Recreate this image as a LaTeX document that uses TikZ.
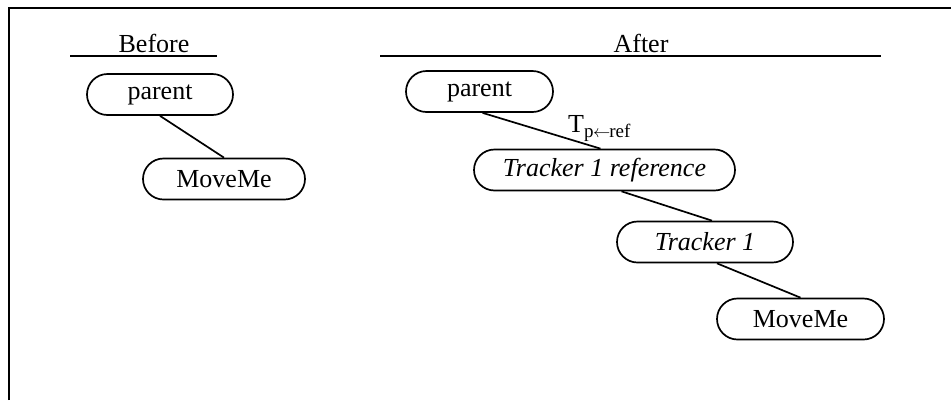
\documentclass[tikz,border=0pt]{standalone}
\usepackage{fontspec}
\setmainfont{Liberation Serif}
\usetikzlibrary{shapes.misc}
\begin{document}
\begin{tikzpicture}[x=1pt,y=-1pt,
  pill/.style={draw, line width=1.7pt, rounded rectangle, minimum height=41pt,
               inner sep=0pt, font=\fontsize{26}{30}\selectfont},
  link/.style={line width=1.7pt},
  heading/.style={font=\fontsize{26}{30}\selectfont, inner sep=0pt},
  rule/.style={line width=1.7pt}]
\useasboundingbox (0,0) rectangle (951,400);

% frame (top and left edges)
\draw[line width=2.6pt] (9,400) -- (9,8) -- (951,8);

% headings with rules
\node[heading] (before) at (154,43) {Before};
\coordinate (bl) at (70,56);
\coordinate (br) at (217,56);
\draw[rule] (bl) -- (br);

\node[heading] (after) at (641,43) {After};
\coordinate (al) at (380,56);
\coordinate (ar) at (881,56);
\draw[rule] (al) -- (ar);

% before
\node[pill, minimum width=146pt] (parentB) at (160,94.5) {parent};
\node[pill, minimum width=162pt] (moveB) at (224,179) {MoveMe};
\draw[link] (parentB.south) -- (moveB.north);

% after
\node[pill, minimum width=147pt] (parentA) at (479.5,91.5) {parent};
\node[pill, minimum width=261pt] (refA) at (604.5,170) {\itshape Tracker 1 reference};
\node[pill, minimum width=176pt] (trk) at (705,242) {\itshape Tracker 1};
\node[pill, minimum width=167pt] (moveA) at (800.5,319) {MoveMe};

\draw[link] ([xshift=3pt]parentA.south) -- ([xshift=-4pt]refA.north);
\node[anchor=base west, inner sep=0pt, font=\fontsize{26}{30}\selectfont] (tlabel) at (568,132)
  {T\raisebox{-0.5ex}{\fontsize{19}{20}\selectfont p\kern-0.5pt$\leftarrow$\kern-1pt ref}};
\draw[link] ([xshift=17pt]refA.south) -- ([xshift=7pt]trk.north);
\draw[link] ([xshift=12pt]trk.south) -- (moveA.north);
\end{tikzpicture}
\end{document}
